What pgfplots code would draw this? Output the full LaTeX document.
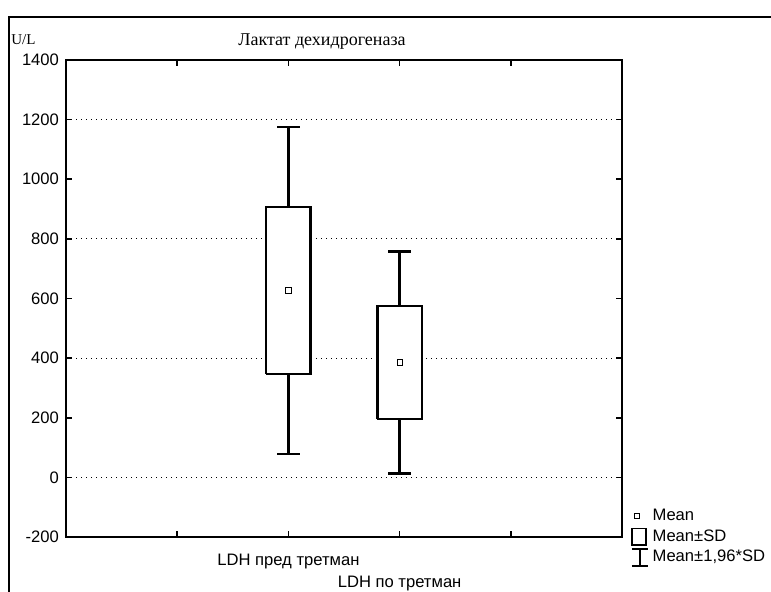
\documentclass[border=0pt]{standalone}
\usepackage{fontspec}
\setmainfont{Liberation Sans}
\newfontfamily\titlefont{Liberation Serif}
\usepackage{pgfplots}
\pgfplotsset{compat=1.18}

% picture is 771x592 px, 1 px = 0.5pt
\newcommand{\lab}{\fontsize{8.3}{10.5}\selectfont}

\begin{document}
\begin{tikzpicture}
\useasboundingbox (0,0) rectangle (385.5pt,296pt);
% outer frame of the scanned figure
\draw[line width=0.7pt] (4.5pt,0) -- (4.5pt,287.5pt) -- (385.5pt,287.5pt);
\node[anchor=west, font=\titlefont\fontsize{7.5}{9}\selectfont, inner sep=0pt] at (5.5pt,276pt) {U/L};
\node[font=\titlefont\fontsize{9}{11}\selectfont] at (161pt,275pt) {Лактат дехидрогеназа};

\begin{axis}[
    at={(33pt,27.5pt)}, anchor=south west,
    scale only axis,
    width=278pt, height=238.5pt,
    xmin=0, xmax=5,
    ymin=-200, ymax=1400,
    xtick={1,2,3,4},
    xticklabels={,LDH пред третман,,},
    xticklabel style={font=\lab, yshift=-5pt},
    extra x ticks={3},
    extra x tick labels={LDH по третман},
    extra x tick style={xticklabel style={yshift=-11pt}},
    ytick={-200,0,...,1400},
    yticklabel style={font=\lab},
    /pgf/number format/assume math mode=true,
    /pgf/number format/1000 sep={},
    axis line style={line width=1.4pt},
    tick style={black, line width=0.8pt},
    major tick length=3pt,
    clip=false,
    legend style={at={(1.012,0.072)}, anchor=north west, draw=none, fill=none,
        font=\lab, row sep=-1pt, inner sep=1pt},
    legend cell align=left,
]
\addlegendimage{legend image code/.code={\draw[line width=0.5pt] (1.5pt,-1.2pt) rectangle (4pt,1.2pt);}}
\addlegendentry{Mean}
\addlegendimage{legend image code/.code={\draw[line width=0.8pt] (0pt,-4.2pt) rectangle (7pt,4.2pt);}}
\addlegendentry{Mean±SD}
\addlegendimage{legend image code/.code={\draw[line width=0.8pt] (0pt,4.2pt) -- (8pt,4.2pt) (4pt,4.2pt) -- (4pt,-4.2pt) (0pt,-4.2pt) -- (8pt,-4.2pt);}}
\addlegendentry{Mean±1,96*SD}

% dotted grid lines every 400
\addplot[black, dotted, line width=0.5pt, forget plot] coordinates {(0,0) (5,0)};
\addplot[black, dotted, line width=0.5pt, forget plot] coordinates {(0,400) (5,400)};
\addplot[black, dotted, line width=0.5pt, forget plot] coordinates {(0,800) (5,800)};
\addplot[black, dotted, line width=0.5pt, forget plot] coordinates {(0,1200) (5,1200)};

% LDH пред третман: mean 627, SD 280
\addplot[black, line width=1.2pt, forget plot] coordinates {(2,78) (2,1176)};
\addplot[black, line width=1.2pt, forget plot] coordinates {(1.9,78) (2.1,78)};
\addplot[black, line width=1.2pt, forget plot] coordinates {(1.9,1176) (2.1,1176)};
\addplot[black, fill=white, line width=1.2pt, forget plot]
    coordinates {(1.8,347) (2.2,347) (2.2,907) (1.8,907) (1.8,347)};
% LDH по третман: mean 385, SD 190
\addplot[black, line width=1.2pt, forget plot] coordinates {(3,13) (3,757)};
\addplot[black, line width=1.2pt, forget plot] coordinates {(2.9,13) (3.1,13)};
\addplot[black, line width=1.2pt, forget plot] coordinates {(2.9,757) (3.1,757)};
\addplot[black, fill=white, line width=1.2pt, forget plot]
    coordinates {(2.8,195) (3.2,195) (3.2,575) (2.8,575) (2.8,195)};
% means
\addplot[only marks, mark=square, mark size=1.3pt, black, line width=0.5pt, forget plot]
    coordinates {(2,627) (3,385)};
\end{axis}
\end{tikzpicture}
\end{document}
